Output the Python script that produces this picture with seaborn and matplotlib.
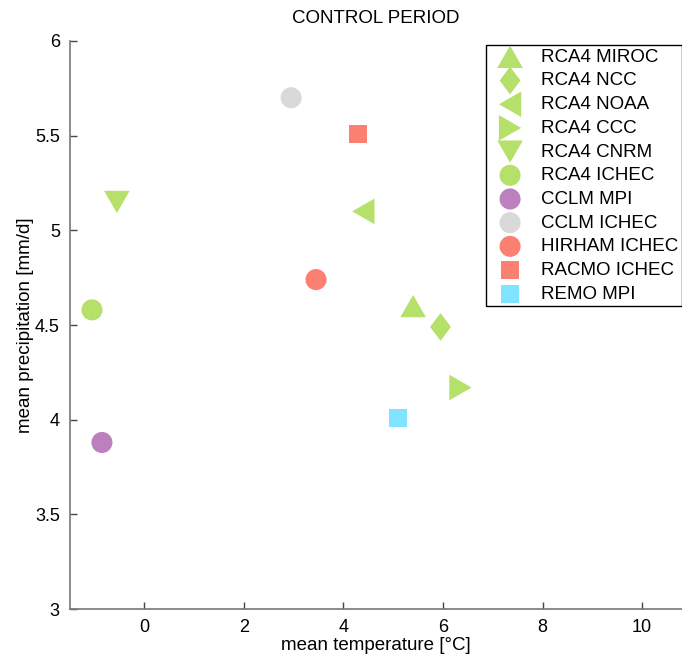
import matplotlib
matplotlib.use("Agg")
import matplotlib.pyplot as plt
import seaborn as sns
import pandas as pd

models = ["RCA4 MIROC", "RCA4 NCC", "RCA4 NOAA", "RCA4 CCC", "RCA4 CNRM", "RCA4 ICHEC",
          "CCLM MPI", "CCLM ICHEC", "HIRHAM ICHEC", "RACMO ICHEC", "REMO MPI"]
temperature = [5.4, 5.95, 4.4, 6.35, -0.55, -1.05, -0.85, 2.95, 3.45, 4.3, 5.1]
precipitation = [4.6, 4.49, 5.1, 4.17, 5.15, 4.58, 3.88, 5.7, 4.74, 5.51, 4.01]
colors = ["#b5e06a", "#b5e06a", "#b5e06a", "#b5e06a", "#b5e06a", "#b5e06a",
          "#bc80bd", "#d9d9d9", "#fb8072", "#fb8072", "#80e3ff"]

# marker shapes (equilateral triangles, narrow diamond)
TRI_UP = [(0, 1), (-1.15, -1), (1.15, -1), (0, 1)]
TRI_DOWN = [(0, -1), (-1.15, 1), (1.15, 1), (0, -1)]
TRI_LEFT = [(-1, 0), (1, 1.15), (1, -1.15), (-1, 0)]
TRI_RIGHT = [(1, 0), (-1, 1.15), (-1, -1.15), (1, 0)]
DIAMOND = [(0, 1), (0.75, 0), (0, -1), (-0.75, 0), (0, 1)]
markers = [TRI_UP, DIAMOND, TRI_LEFT, TRI_RIGHT, TRI_DOWN, "o", "o", "o", "o", "s", "s"]
sizes = [340, 400, 340, 340, 340, 230, 230, 230, 230, 170, 170]

df = pd.DataFrame({"model": models, "temperature": temperature, "precipitation": precipitation})

sns.set_style("white")
plt.rcParams["font.family"] = ["Liberation Sans", "DejaVu Sans"]
plt.rcParams["text.color"] = "black"
plt.rcParams["axes.labelcolor"] = "black"
plt.rcParams["xtick.color"] = "black"
plt.rcParams["ytick.color"] = "black"

fig = plt.figure(figsize=(6.82, 6.6), dpi=100)
ax = fig.add_axes([0.102, 0.077, 0.898, 0.861])

for i, row in df.iterrows():
    sns.scatterplot(x=[row["temperature"]], y=[row["precipitation"]], ax=ax,
                    color=colors[i], marker=markers[i], s=sizes[i],
                    edgecolor="none", linewidth=0, label=row["model"])

ax.set_xlim(-1.5, 10.8)
ax.set_ylim(3, 6)
ax.set_xticks([0, 2, 4, 6, 8, 10])
ax.set_yticks([3, 3.5, 4, 4.5, 5, 5.5, 6])
ax.set_yticklabels(["3", "3.5", "4", "4.5", "5", "5.5", "6"])
for s in ["top", "right"]:
    ax.spines[s].set_visible(False)
for s in ["left", "bottom"]:
    ax.spines[s].set_color("#777777")
    ax.spines[s].set_linewidth(1.2)
ax.tick_params(bottom=True, left=True, direction="in", length=5, width=1,
               color="#444444", labelcolor="black", labelsize=13, pad=7)
ax.set_xlabel("mean temperature [°C]", fontsize=13.5, labelpad=1)
ax.set_ylabel("mean precipitation [mm/d]", fontsize=13.5, labelpad=1)
ax.set_title("CONTROL PERIOD", fontsize=13.5, pad=13)

leg = ax.legend(loc="upper right", bbox_to_anchor=(1.0, 0.993), fontsize=13.5,
                frameon=True, fancybox=False, edgecolor="black", framealpha=1,
                borderpad=0.2, labelspacing=0.35, handletextpad=0.55, handlelength=2.2,
                borderaxespad=0.0)
leg.get_frame().set_linewidth(1.0)
for t in leg.get_texts():
    t.set_color("black")

fig.savefig("out.png", dpi=100)
